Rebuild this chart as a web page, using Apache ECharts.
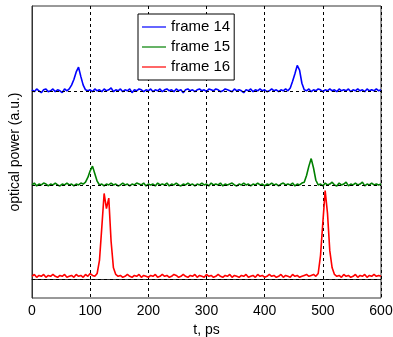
<!DOCTYPE html>
<html>
<head>
<meta charset="utf-8">
<script src="https://cdn.jsdelivr.net/npm/echarts@6/dist/echarts.min.js"></script>
<style>html,body{margin:0;padding:0;background:#fff}#c{width:393px;height:337px}</style>
</head>
<body>
<div id="c"></div>
<script>
const times = [0,4,8,12,16,20,24,28,32,36,40,44,48,52,56,60,64,68,72,76,80,84,88,92,96,100,104,108,112,116,120,124,128,132,136,140,144,148,152,156,160,164,168,172,176,180,184,188,192,196,200,204,208,212,216,220,224,228,232,236,240,244,248,252,256,260,264,268,272,276,280,284,288,292,296,300,304,308,312,316,320,324,328,332,336,340,344,348,352,356,360,364,368,372,376,380,384,388,392,396,400,404,408,412,416,420,424,428,432,436,440,444,448,452,456,460,464,468,472,476,480,484,488,492,496,500,504,508,512,516,520,524,528,532,536,540,544,548,552,556,560,564,568,572,576,580,584,588,592,596,600];

const frame14 = [
2.01,1.99,2.02,2.00,1.98,2.01,2.02,1.99,2.00,2.02,
1.99,2.01,2.00,1.98,2.02,2.00,2.02,2.06,2.12,2.20,
2.25,2.15,2.06,2.01,2.00,2.01,1.99,2.02,2.00,2.01,
1.99,2.02,2.00,2.01,2.03,1.99,2.01,2.00,2.02,1.99,
2.01,2.00,2.02,1.98,2.01,2.00,2.02,2.01,1.99,2.01,
2.00,2.02,1.99,2.01,2.00,2.02,1.99,2.01,2.02,2.00,
2.01,1.99,2.02,2.00,2.01,1.98,2.01,2.02,2.00,2.01,
1.99,2.01,2.02,2.00,2.01,1.99,2.02,2.01,2.00,2.02,
2.01,1.99,2.00,2.02,2.01,2.00,1.99,2.02,2.00,2.01,
2.00,1.98,2.01,2.00,2.02,1.99,2.01,2.00,2.02,2.00,
2.01,1.99,2.00,2.02,2.00,2.01,1.99,2.01,2.00,2.02,
2.00,2.03,2.10,2.18,2.27,2.22,2.08,2.01,2.00,2.02,
1.99,2.01,2.00,2.02,2.01,1.99,2.01,2.00,2.02,2.00,
2.01,1.99,2.02,2.00,2.01,2.00,2.02,1.99,2.01,2.00,
2.02,2.00,2.01,1.99,2.02,2.00,2.01,2.00,2.02,2.00,
2.01];

const frame15 = [
1.00,1.02,0.99,1.01,1.00,1.02,1.01,0.99,1.01,1.00,
1.02,1.00,0.99,1.01,1.00,1.02,1.00,1.01,0.99,1.01,
1.00,1.02,1.01,1.03,1.08,1.15,1.20,1.12,1.04,1.00,
1.01,0.99,1.01,1.00,1.02,1.00,1.01,0.99,1.00,1.02,
1.00,1.01,0.99,1.01,1.00,1.02,1.01,1.00,1.02,0.99,
1.01,1.00,1.01,0.99,1.02,1.00,1.01,1.00,1.02,0.99,
1.01,1.00,1.02,1.00,0.99,1.01,1.00,1.02,1.00,1.01,
0.99,1.01,1.00,1.02,1.00,1.01,0.99,1.02,1.00,1.01,
1.00,1.02,0.99,1.01,1.00,1.01,1.02,1.00,0.99,1.01,
1.00,1.02,1.00,1.01,0.99,1.01,1.00,1.02,1.00,1.01,
0.99,1.01,1.00,1.02,1.00,1.01,0.99,1.01,1.02,1.00,
1.01,1.00,1.02,0.99,1.01,1.00,1.02,1.03,1.10,1.20,
1.28,1.18,1.05,1.00,1.01,0.99,1.02,1.00,1.01,1.03,
1.00,0.99,1.02,1.00,1.01,1.03,0.99,1.01,1.00,1.02,
1.00,1.01,1.03,0.99,1.01,1.00,1.02,1.00,1.01,1.00,
1.01];

const frame16 = [
0.03,0.05,0.02,0.04,0.03,0.05,0.02,0.04,0.03,0.05,
0.03,0.02,0.04,0.03,0.05,0.02,0.03,0.04,0.02,0.05,
0.03,0.04,0.02,0.05,0.03,0.06,0.04,0.03,0.06,0.20,
0.55,0.91,0.75,0.86,0.40,0.12,0.05,0.03,0.04,0.02,
0.03,0.05,0.03,0.02,0.04,0.03,0.05,0.02,0.04,0.03,
0.02,0.04,0.03,0.05,0.02,0.03,0.05,0.03,0.04,0.02,
0.03,0.05,0.04,0.02,0.03,0.05,0.03,0.02,0.04,0.03,
0.05,0.02,0.04,0.03,0.02,0.05,0.03,0.04,0.02,0.03,
0.05,0.03,0.02,0.04,0.03,0.05,0.02,0.04,0.03,0.02,
0.04,0.03,0.05,0.02,0.03,0.04,0.02,0.05,0.03,0.04,
0.02,0.03,0.05,0.03,0.04,0.02,0.03,0.05,0.02,0.04,
0.03,0.02,0.05,0.03,0.04,0.02,0.03,0.04,0.05,0.03,
0.04,0.05,0.03,0.06,0.25,0.60,0.94,0.70,0.30,0.12,
0.05,0.03,0.04,0.02,0.05,0.03,0.04,0.02,0.03,0.05,
0.02,0.04,0.03,0.05,0.02,0.04,0.03,0.05,0.03,0.04,
0.03];

const seriesNames = ['frame 14','frame 15','frame 16'];
const seriesColors = ['#0000ff','#008000','#ff0000'];
const xTicks = [0,100,200,300,400,500,600];
const yGridLevels = [0,1,2];

const FONT = 'Liberation Sans, Arial, sans-serif';
const pair = (arr) => arr.map((v, i) => [times[i], v]);
const seriesData = [frame14, frame15, frame16];

const chart = echarts.init(document.getElementById('c'), null, {renderer: 'canvas'});
chart.setOption({
  animation: false,
  backgroundColor: '#fff',
  grid: {left: 32, right: 12, top: 6, bottom: 39, outerBoundsMode: 'none', containLabel: false,
    show: true, borderColor: '#333', borderWidth: 1, backgroundColor: 'transparent'},
  legend: {
    data: seriesNames.map(n => ({name: n, icon: 'rect'})),
    orient: 'vertical',
    left: 138, top: 14,
    itemWidth: 24, itemHeight: 1.2, itemGap: 4,
    padding: [5, 4, 5, 4],
    backgroundColor: '#fff',
    borderColor: '#000', borderWidth: 1, borderRadius: 0,
    textStyle: {fontFamily: FONT, fontSize: 15, color: '#000', lineHeight: 16}
  },
  xAxis: {
    type: 'value', min: 0, max: 600, interval: 100,
    name: 't, ps', nameLocation: 'middle', nameGap: 22,
    nameTextStyle: {fontFamily: FONT, fontSize: 14, color: '#000'},
    axisLine: {show: true, lineStyle: {color: '#333'}},
    axisTick: {show: false},
    axisLabel: {fontFamily: FONT, fontSize: 14, color: '#000', margin: 6,
      customValues: xTicks},
    splitLine: {show: true, lineStyle: {color: '#000', type: [3, 3], width: 1}}
  },
  yAxis: {
    type: 'value', min: -0.2, max: 2.9,
    name: 'optical power (a.u.)', nameLocation: 'middle', nameGap: 10,
    nameTextStyle: {fontFamily: FONT, fontSize: 14, color: '#000'},
    axisLine: {show: true, lineStyle: {color: '#333'}},
    axisTick: {show: false},
    axisLabel: {show: false},
    splitLine: {show: false}
  },
  series: [
    {
      type: 'line', name: '_grid', data: [], z: 1, silent: true,
      markLine: {
        silent: true, symbol: 'none', label: {show: false},
        lineStyle: {color: '#000', type: [3, 3], width: 1},
        data: yGridLevels.map(v => ({yAxis: v}))
      }
    },
    ...seriesNames.map((n, k) => ({
      type: 'line', name: n, data: pair(seriesData[k]),
      showSymbol: false, symbol: 'none', z: 3,
      color: seriesColors[k],
      lineStyle: {color: seriesColors[k], width: 1.6}
    }))
  ]
});
</script>
</body>
</html>
